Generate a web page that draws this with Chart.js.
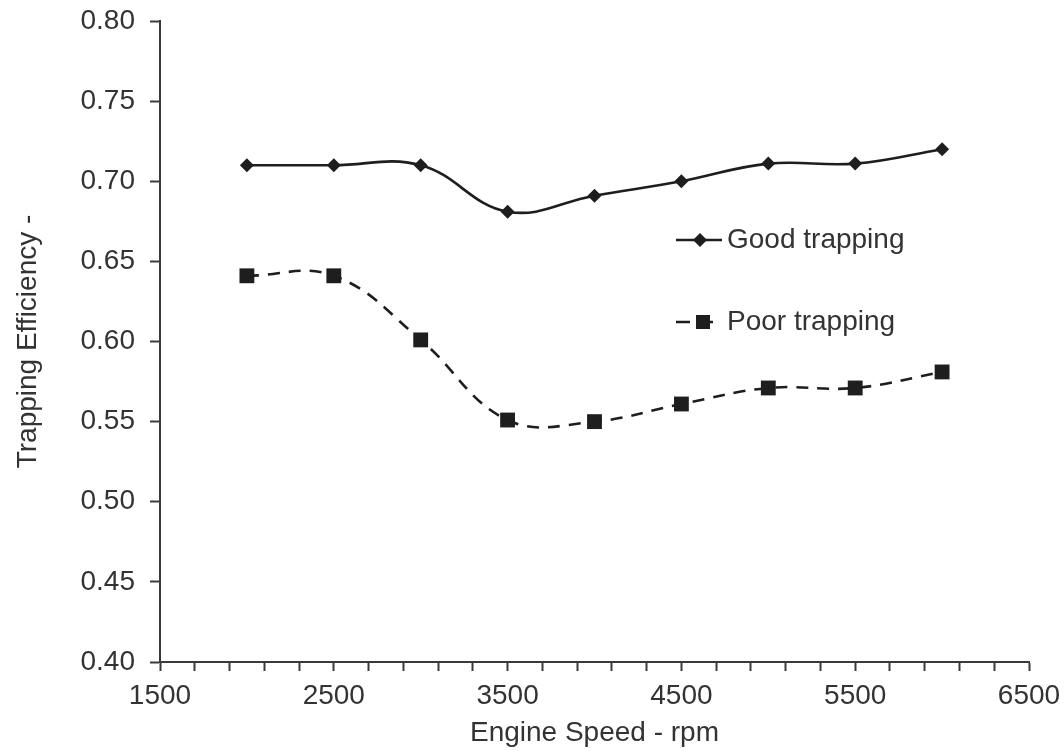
<!DOCTYPE html>
<html>
<head>
<meta charset="utf-8">
<script src="https://cdn.jsdelivr.net/npm/chart.js@4"></script>
<style>
  html, body { margin: 0; padding: 0; background: #fff; }
  #wrap { width: 1064px; height: 751px; }
</style>
</head>
<body>
<div id="wrap"><canvas id="chart"></canvas></div>
<script>
// data
const engineSpeed = [2000, 2500, 3000, 3500, 4000, 4500, 5000, 5500, 6000];
const goodTrapping = [0.71, 0.71, 0.71, 0.681, 0.691, 0.70, 0.711, 0.711, 0.72];
const poorTrapping = [0.641, 0.641, 0.601, 0.551, 0.55, 0.561, 0.571, 0.571, 0.581];
const xTickLabels = [1500, 2500, 3500, 4500, 5500, 6500];
const yTickLabels = [0.40, 0.45, 0.50, 0.55, 0.60, 0.65, 0.70, 0.75, 0.80];

const FONT = 'Liberation Sans, Arial, sans-serif';
const TEXT = '#333333';
const AXIS = '#3a3a3a';
const INK = '#1e1e1e';

// legend drawn inside the plot, to the right like the original
const legendInPlot = {
    id: 'legendInPlot',
    afterDraw(chart) {
        const ctx = chart.ctx;
        ctx.save();
        ctx.font = '28px ' + FONT;
        ctx.textBaseline = 'middle';
        ctx.strokeStyle = INK;
        ctx.lineWidth = 2.6;

        // Good trapping
        ctx.beginPath();
        ctx.moveTo(676, 240);
        ctx.lineTo(722, 240);
        ctx.stroke();
        ctx.fillStyle = INK;
        ctx.beginPath();
        ctx.moveTo(700, 233); ctx.lineTo(707, 240); ctx.lineTo(700, 247); ctx.lineTo(693, 240);
        ctx.closePath();
        ctx.fill();
        ctx.fillStyle = TEXT;
        ctx.fillText('Good trapping', 727, 240);

        // Poor trapping
        ctx.beginPath();
        ctx.moveTo(676, 322);
        ctx.lineTo(690, 322);
        ctx.moveTo(704, 322);
        ctx.lineTo(713, 322);
        ctx.stroke();
        ctx.fillStyle = INK;
        ctx.fillRect(696, 315, 14, 14);
        ctx.fillStyle = TEXT;
        ctx.fillText('Poor trapping', 727, 322);
        ctx.restore();
    }
};

new Chart(document.getElementById('chart'), {
    type: 'line',
    data: {
        datasets: [{
            label: 'Good trapping',
            data: engineSpeed.map((x, i) => ({ x: x, y: goodTrapping[i] })),
            borderColor: INK,
            backgroundColor: INK,
            borderWidth: 2.6,
            tension: 0.4,
            pointStyle: 'rectRot',
            pointRadius: 7,
            pointBorderWidth: 0
        }, {
            label: 'Poor trapping',
            data: engineSpeed.map((x, i) => ({ x: x, y: poorTrapping[i] })),
            borderColor: INK,
            backgroundColor: INK,
            borderWidth: 2.6,
            borderDash: [12, 9],
            tension: 0.4,
            pointStyle: 'rect',
            pointRadius: 10.5,
            pointBorderWidth: 0
        }]
    },
    options: {
        responsive: true,
        maintainAspectRatio: false,
        animation: false,
        layout: { padding: { top: 21, right: 35, bottom: 0, left: 0 } },
        plugins: {
            legend: { display: false },
            tooltip: { enabled: false }
        },
        scales: {
            x: {
                type: 'linear',
                min: 1500,
                max: 6500,
                afterBuildTicks(scale) {
                    const ticks = [];
                    for (let v = 1500; v <= 6500; v += 200) ticks.push({ value: v });
                    scale.ticks = ticks;
                },
                afterFit(scale) {
                    scale.height = 89;
                    scale.paddingLeft = 0;
                    scale.paddingRight = 0;
                },
                ticks: {
                    autoSkip: false,
                    maxRotation: 0,
                    padding: 8,
                    color: TEXT,
                    font: { family: FONT, size: 28 },
                    callback: v => xTickLabels.includes(v) ? String(v) : ''
                },
                grid: {
                    drawOnChartArea: false,
                    tickLength: 9,
                    tickWidth: 2,
                    tickColor: AXIS
                },
                border: { color: AXIS, width: 2 },
                title: {
                    display: true,
                    text: 'Engine Speed - rpm',
                    color: TEXT,
                    font: { family: FONT, size: 28 },
                    padding: { top: 0, bottom: 1 }
                }
            },
            y: {
                min: 0.40,
                max: 0.80,
                afterBuildTicks(scale) {
                    scale.ticks = yTickLabels.map(v => ({ value: v }));
                },
                afterFit(scale) {
                    scale.width = 160;
                    scale.paddingTop = 0;
                    scale.paddingBottom = 0;
                },
                ticks: {
                    padding: 15,
                    color: TEXT,
                    font: { family: FONT, size: 28 },
                    callback: v => v.toFixed(2)
                },
                grid: {
                    drawOnChartArea: false,
                    tickLength: 10,
                    tickWidth: 2,
                    tickColor: AXIS
                },
                border: { color: AXIS, width: 2 },
                title: {
                    display: true,
                    text: 'Trapping Efficiency -',
                    color: TEXT,
                    font: { family: FONT, size: 28 },
                    padding: { top: 11, bottom: 0 }
                }
            }
        }
    },
    plugins: [legendInPlot]
});
</script>
</body>
</html>
